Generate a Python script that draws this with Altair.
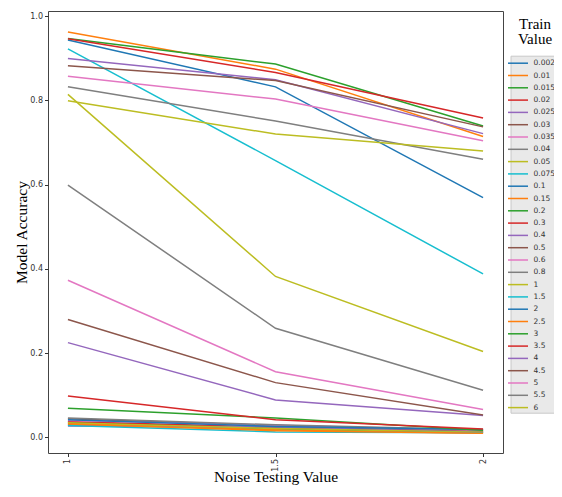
import altair as alt
import pandas as pd

test_values = [1, 1.5, 2]
train_values = ["0.002", "0.01", "0.015", "0.02", "0.025", "0.03", "0.035", "0.04",
                "0.05", "0.075", "0.1", "0.15", "0.2", "0.3", "0.4", "0.5", "0.6",
                "0.8", "1", "1.5", "2", "2.5", "3", "3.5", "4", "4.5", "5", "5.5", "6"]
acc_at_1 = [0.030, 0.033, 0.036, 0.038, 0.027, 0.044, 0.040, 0.046, 0.035, 0.028,
            0.042, 0.032, 0.069, 0.098, 0.225, 0.280, 0.373, 0.599, 0.814, 0.922,
            0.943, 0.962, 0.947, 0.946, 0.899, 0.882, 0.857, 0.832, 0.799]
acc_at_15 = [0.020, 0.018, 0.022, 0.024, 0.025, 0.028, 0.029, 0.030, 0.021, 0.013,
             0.026, 0.016, 0.046, 0.042, 0.089, 0.130, 0.156, 0.259, 0.382, 0.657,
             0.832, 0.874, 0.886, 0.866, 0.849, 0.847, 0.803, 0.751, 0.720]
acc_at_2 = [0.012, 0.010, 0.013, 0.015, 0.014, 0.016, 0.017, 0.018, 0.012, 0.011,
            0.019, 0.010, 0.017, 0.020, 0.052, 0.053, 0.066, 0.112, 0.204, 0.388,
            0.569, 0.714, 0.739, 0.758, 0.721, 0.737, 0.704, 0.660, 0.680]
tab10 = ["#1f77b4", "#ff7f0e", "#2ca02c", "#d62728", "#9467bd",
         "#8c564b", "#e377c2", "#7f7f7f", "#bcbd22", "#17becf"]

rows = []
for i, tv in enumerate(train_values):
    for x, acc in zip(test_values, [acc_at_1[i], acc_at_15[i], acc_at_2[i]]):
        rows.append({"train": tv, "order": i, "test": x, "acc": acc})
df = pd.DataFrame(rows)

colors = [tab10[i % 10] for i in range(len(train_values))]

W, H = 455, 442

lines = alt.Chart(df).mark_line(strokeWidth=1.5).encode(
    x=alt.X("test:Q",
            scale=alt.Scale(domain=[0.952, 2.048], nice=False, zero=False),
            axis=alt.Axis(values=test_values, format="~g", labelAngle=270,
                          title="Noise Testing Value", titleBaseline="alphabetic",
                          titleY=28, titleX=W / 2)),
    y=alt.Y("acc:Q",
            scale=alt.Scale(domain=[-0.037, 1.012], nice=False, zero=False),
            axis=alt.Axis(values=[0, 0.2, 0.4, 0.6, 0.8, 1.0], format=".1f",
                          title="Model Accuracy", titleBaseline="alphabetic",
                          titleX=-22, titleY=H / 2)),
    color=alt.Color("train:N",
                    scale=alt.Scale(domain=train_values, range=colors),
                    sort=train_values,
                    legend=alt.Legend(title=None, orient="none", legendX=462.5,
                                      legendY=44.7, padding=1, rowPadding=2.3,
                                      symbolType="M-1.82,0H1.82", symbolSize=121,
                                      symbolStrokeWidth=1.5, labelOffset=9,
                                      labelFont="DejaVu Sans", labelFontSize=7.5,
                                      labelColor="#333", fillColor="#e9e9e9",
                                      strokeColor="#c8c8c8")),
    detail="order:O",
    order="order:Q",
)

legend_title = alt.Chart(pd.DataFrame({"t": [0]})).mark_text(
    text=["Train", "Value"], font="Liberation Serif", fontSize=15,
    lineHeight=14.7, align="center", baseline="alphabetic", color="black",
).encode(x=alt.value(487), y=alt.value(18))

chart = alt.layer(lines, legend_title).properties(
    width=W, height=H,
    autosize=alt.AutoSizeParams(type="none"),
    padding={"left": 40, "top": 3, "right": 51, "bottom": 32},
).configure_view(stroke="#444", strokeWidth=1).configure_axis(
    domain=False, grid=False, tickColor="#333", tickSize=3.5, labelPadding=2,
    labelFont="DejaVu Sans", labelFontSize=8, labelColor="#333",
    titleFont="Liberation Serif", titleFontSize=15.5, titleFontWeight="normal",
    titleColor="black",
)

chart.save("out.html", embed_options={"renderer": "svg", "actions": False})
